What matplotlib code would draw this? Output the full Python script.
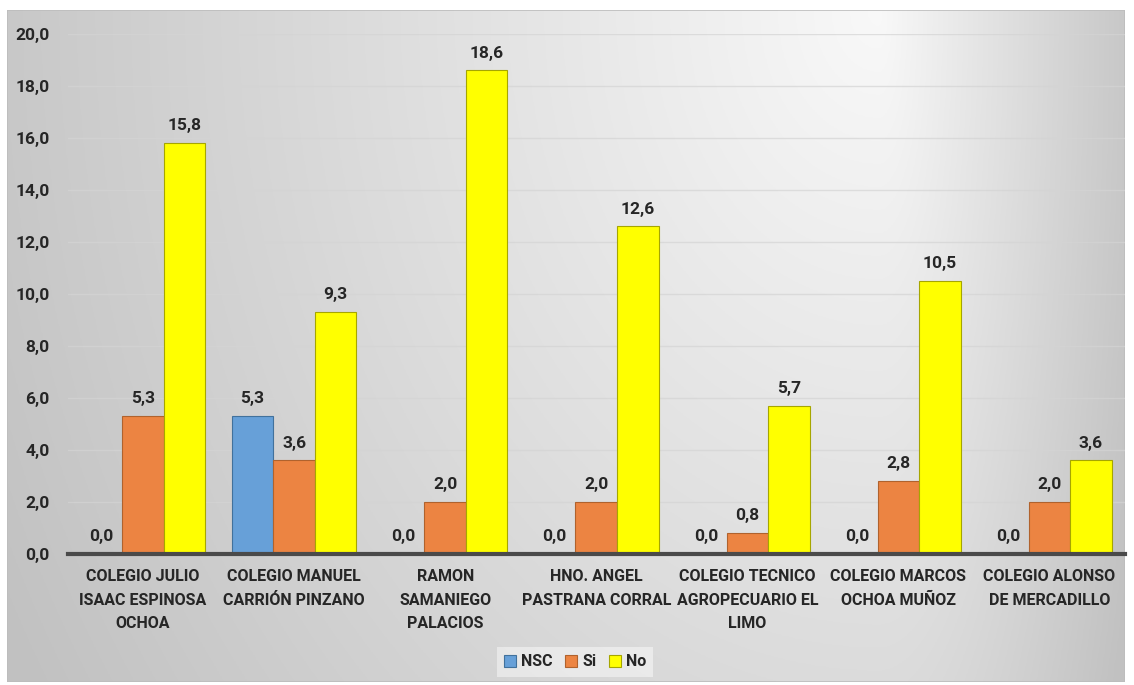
import numpy as np
import matplotlib
matplotlib.use("Agg")
import matplotlib.pyplot as plt
from matplotlib.patches import Rectangle

categories = [
    "COLEGIO JULIO\nISAAC ESPINOSA\nOCHOA",
    "COLEGIO MANUEL\nCARRIÓN PINZANO",
    "RAMON\nSAMANIEGO\nPALACIOS",
    "HNO. ANGEL\nPASTRANA CORRAL",
    "COLEGIO TECNICO\nAGROPECUARIO EL\nLIMO",
    "COLEGIO MARCOS\nOCHOA MUÑOZ",
    "COLEGIO ALONSO\nDE MERCADILLO",
]
series_names = ["NSC", "Si", "No"]
nsc = [0.0, 5.3, 0.0, 0.0, 0.0, 0.0, 0.0]
si = [5.3, 3.6, 2.0, 2.0, 0.8, 2.8, 2.0]
no = [15.8, 9.3, 18.6, 12.6, 5.7, 10.5, 3.6]
yticks = [0, 2, 4, 6, 8, 10, 12, 14, 16, 18, 20]

colors = ["#67A0D8", "#EC8442", "#FFFF00"]
edges = ["#41719C", "#B0622D", "#A6A600"]

FONT = ['Roboto', 'DejaVu Sans']
plt.rcParams['font.family'] = FONT
plt.rcParams['font.weight'] = 'bold'
FS = 12.5
FSC = 11.5
TXT = "#262626"

W, H = 1134, 685
fig = plt.figure(figsize=(W / 100, H / 100), dpi=100)
fig.patch.set_facecolor("white")

# background gradient panel
bx0, by0, bx1, by1 = 7, 10, 1125, 682
bg = fig.add_axes([bx0 / W, 1 - by1 / H, (bx1 - bx0) / W, (by1 - by0) / H])
nx, ny = 400, 250
xs = np.linspace(bx0, bx1, nx)
ys = np.linspace(by0, by1, ny)
X, Y = np.meshgrid(xs, ys)
xc = 880
u = np.where(X < xc, (xc - X) / (xc - bx0), (X - xc) / (bx1 - xc))
v = (Y - by0) / (by1 - by0)
val = 0.975 - 0.19 * np.sqrt(u ** 2 + (0.6 * v) ** 2)
val = np.clip(val, 0.76, 0.98)
img = np.dstack([val, val, val])
bg.imshow(img, aspect='auto', extent=[0, 1, 0, 1], origin='upper')
bg.set_xlim(0, 1)
bg.set_ylim(0, 1)
bg.axis('off')
bg.add_patch(Rectangle((0, 0), 1, 1, transform=bg.transAxes, fill=False,
                       edgecolor="#bdbdbd", linewidth=1.2))

# plot axes
ax_left, ax_right, ax_top, ax_bottom = 67.5, 1125, 34, 554
ax = fig.add_axes([ax_left / W, 1 - ax_bottom / H, (ax_right - ax_left) / W,
                   (ax_bottom - ax_top) / H])
ax.patch.set_alpha(0)

n = len(categories)
x = np.arange(n)
bw = 0.275
series = [nsc, si, no]
for i, (vals, c, e, name) in enumerate(zip(series, colors, edges, series_names)):
    offs = (i - 1) * bw
    ax.bar(x + offs, vals, width=bw, color=c, edgecolor=e, linewidth=0.8,
           label=name, zorder=3)
    for xi, vv in zip(x + offs, vals):
        ax.annotate(f"{vv:.1f}".replace(".", ","), (xi, vv), xytext=(0, 7),
                    textcoords="offset points", ha="center", va="bottom",
                    fontsize=FS, fontweight="bold", color=TXT, zorder=4)

ax.set_xlim(-0.5, n - 0.5)
ax.set_ylim(0, 20)
ax.set_yticks(yticks)
ax.set_yticklabels([f"{t:.1f}".replace(".", ",") for t in yticks],
                   fontsize=FS, fontweight="bold", color=TXT)
ax.set_xticks(x)
ax.set_xticklabels(categories, fontsize=FSC, fontweight="bold", color=TXT,
                   linespacing=1.7)
ax.tick_params(axis='both', length=0)
ax.tick_params(axis='y', pad=13)
ax.tick_params(axis='x', pad=11)
ax.yaxis.grid(True, color="#d4d4d4", linewidth=1, alpha=0.7, zorder=0)
ax.set_axisbelow(True)
for s in ["top", "right", "left"]:
    ax.spines[s].set_visible(False)
ax.spines["bottom"].set_color("#4a4a4a")
ax.spines["bottom"].set_linewidth(3)
ax.spines["bottom"].set_zorder(5)

leg = fig.legend(loc="center", bbox_to_anchor=(575 / W, 1 - 662 / H), ncol=3,
                 frameon=True, handlelength=0.75, handleheight=0.75,
                 handletextpad=0.3, columnspacing=0.8, borderpad=0.45,
                 prop={'family': FONT, 'weight': 'bold', 'size': FSC})
leg.get_frame().set_facecolor("white")
leg.get_frame().set_alpha(0.45)
leg.get_frame().set_edgecolor("none")
leg.get_frame().set_boxstyle("square", pad=0.0)
for t in leg.get_texts():
    t.set_color(TXT)

fig.savefig("out.png", dpi=100, facecolor="white")
